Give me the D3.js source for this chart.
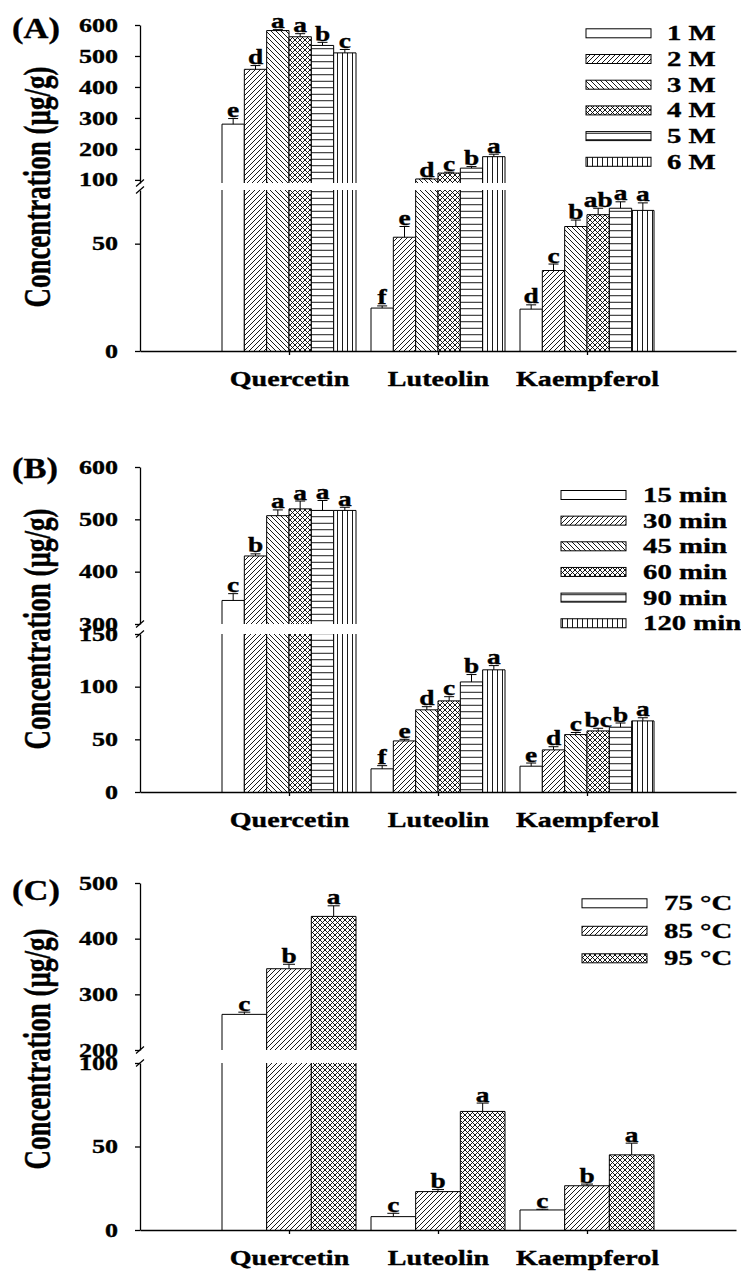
<!DOCTYPE html>
<html>
<head>
<meta charset="utf-8">
<script src="https://cdn.jsdelivr.net/npm/d3@7"></script>
<style>
  body { margin: 0; background: #fff; }
  text { font-family: "Liberation Serif", "Times New Roman", serif; font-weight: bold; fill: #000; stroke: #000; stroke-width: 0.35px; }
</style>
</head>
<body>
<svg id="chart" width="741" height="1272"></svg>
<script>
// ---- data ----
const compounds = ["Quercetin", "Luteolin", "Kaempferol"];

// (A) acid concentration
const seriesA = ["1 M", "2 M", "3 M", "4 M", "5 M", "6 M"];
const valuesA = [
    [280, 457, 582, 562, 534, 510],
    [20, 53, 103, 122, 138, 175],
    [19.5, 37.5, 58, 63.5, 66.5, 65.5]
];
const errorsA = [
    [18, 12, 3, 10, 10, 11],
    [1, 5, 2, 3, 5, 8],
    [2, 3, 3, 3, 3, 3.5]
];
const lettersA = [
    ["e", "d", "a", "a", "b", "c"],
    ["f", "e", "d", "c", "b", "a"],
    ["d", "c", "b", "ab", "a", "a"]
];
const upperTicksA = [100, 200, 300, 400, 500, 600];
const lowerTicksA = [0, 50];

// (B) extraction time
const seriesB = ["15 min", "30 min", "45 min", "60 min", "90 min", "120 min"];
const valuesB = [
    [345, 430, 507, 520, 517, 517],
    [22, 48.5, 78, 86.5, 104.5, 116],
    [24.5, 40, 54.5, 58, 61.5, 67.5]
];
const errorsB = [
    [13, 4, 11, 15, 19, 6],
    [3, 1.5, 3, 4, 7, 4],
    [3, 3, 2, 2.5, 4, 3]
];
const lettersB = [
    ["c", "b", "a", "a", "a", "a"],
    ["f", "e", "d", "c", "b", "a"],
    ["e", "d", "c", "bc", "b", "a"]
];
const upperTicksB = [300, 400, 500, 600];
const lowerTicksB = [0, 50, 100, 150];

// (C) temperature
const seriesC = ["75 °C", "85 °C", "95 °C"];
const valuesC = [
    [264, 346, 440],
    [8, 23, 71],
    [12, 26.5, 45]
];
const errorsC = [
    [4, 8, 19],
    [2, 1.2, 5],
    [0.4, 1, 7]
];
const lettersC = [
    ["c", "b", "a"],
    ["c", "b", "a"],
    ["c", "b", "a"]
];
const upperTicksC = [200, 300, 400, 500];
const lowerTicksC = [0, 50, 100];

// ---- layout ----
const SX = 1.37;   // the figure is stretched horizontally
const svg = d3.select("#chart");
const x = d3.scaleLinear().domain([0, 4]).range([140, 736]);
const groupWidth = 134;

const panels = [
    { label: "(A)", labelY: 38, titleY: 187,
      series: seriesA, values: valuesA, errors: errorsA, letters: lettersA,
      fills: ["blank", "fwd", "back", "cross", "horiz", "vert"],
      upper: { domain: [90, 600], range: [183, 25], ticks: upperTicksA },
      lower: { domain: [0, 75], range: [351, 190], ticks: lowerTicksA },
      legend: { x: 586, y: 33.3, step: 25.7, textX: 667 } },
    { label: "(B)", labelY: 478, titleY: 629,
      series: seriesB, values: valuesB, errors: errorsB, letters: lettersB,
      fills: ["blank", "fwd", "back", "cross", "horiz", "vert"],
      upper: { domain: [300, 600], range: [624, 467], ticks: upperTicksB },
      lower: { domain: [0, 150], range: [792, 634], ticks: lowerTicksB },
      legend: { x: 561, y: 495, step: 25.65, textX: 643 } },
    { label: "(C)", labelY: 900, titleY: 1049,
      series: seriesC, values: valuesC, errors: errorsC, letters: lettersC,
      fills: ["blank", "fwd", "cross"],
      upper: { domain: [200, 500], range: [1050, 883], ticks: upperTicksC },
      lower: { domain: [0, 100], range: [1230, 1063], ticks: lowerTicksC },
      legend: { x: 582, y: 903.3, step: 27.5, textX: 664 } }
];

// ---- hatch patterns ----
const defs = svg.append("defs");
function addPattern(id, w, h, d) {
    const p = defs.append("pattern")
        .attr("id", id)
        .attr("patternUnits", "userSpaceOnUse")
        .attr("width", w)
        .attr("height", h);
    p.append("rect").attr("width", w).attr("height", h).attr("fill", "#fff");
    p.append("path").attr("d", d).attr("stroke", "#000").attr("stroke-width", 0.9).attr("fill", "none");
}
addPattern("fwd", 5, 5, "M-1,1L1,-1M0,5L5,0M4,6L6,4");
addPattern("back", 5, 5, "M-1,4L1,6M0,0L5,5M4,-1L6,1");
addPattern("cross", 5, 5, "M-1,1L1,-1M0,5L5,0M4,6L6,4M-1,4L1,6M0,0L5,5M4,-1L6,1");
addPattern("horiz", 6.5, 6.5, "M0,3.25H6.5");
addPattern("vert", 5, 5, "M2.5,0V5");

const fillOf = name => name === "blank" ? "#fff" : `url(#${name})`;

function drawPiece(g, x0, w, yBottom, yTop, fill, closedTop) {
    g.append("rect")
        .attr("x", x0).attr("y", yTop)
        .attr("width", w).attr("height", yBottom - yTop)
        .attr("fill", fill);
    const d = closedTop
        ? `M${x0},${yBottom}V${yTop}H${x0 + w}V${yBottom}`
        : `M${x0},${yBottom}V${yTop}M${x0 + w},${yTop}V${yBottom}`;
    g.append("path").attr("d", d).attr("stroke", "#000").attr("stroke-width", 1).attr("fill", "none");
}

function styleAxis(ax) {
    ax.attr("font-size", null).attr("font-family", null);
    ax.selectAll(".domain, .tick line").attr("stroke", "#000").attr("stroke-width", 1.3);
}

panels.forEach(pn => {
    const g = svg.append("g");
    const yU = d3.scaleLinear().domain(pn.upper.domain).range(pn.upper.range);
    const yL = d3.scaleLinear().domain(pn.lower.domain).range(pn.lower.range);
    const lowMax = pn.lower.domain[1];
    const band = d3.scaleBand().domain(pn.series).range([-groupWidth / 2, groupWidth / 2]);
    const bw = band.bandwidth();
    const capW = pn.series.length > 3 ? 10 : 12;

    // bars
    pn.values.forEach((vals, ci) => {
        vals.forEach((v, si) => {
            const x0 = x(ci + 1) + band(pn.series[si]);
            const cx = x0 + bw / 2;
            const fill = fillOf(pn.fills[si]);
            drawPiece(g, x0, bw, yL(0), yL(Math.min(v, lowMax)), fill, v <= lowMax);
            if (v > lowMax) {
                drawPiece(g, x0, bw, yU(pn.upper.domain[0]), yU(v), fill, true);
            }
            const seg = v <= lowMax ? yL : yU;
            const err = pn.errors[ci][si];
            const yTop = seg(v), yErr = seg(v + err);
            if (err > 0) {
                g.append("line").attr("x1", cx).attr("x2", cx).attr("y1", yTop).attr("y2", yErr)
                    .attr("stroke", "#000").attr("stroke-width", 1);
                g.append("line").attr("x1", cx - capW / 2).attr("x2", cx + capW / 2).attr("y1", yErr).attr("y2", yErr)
                    .attr("stroke", "#000").attr("stroke-width", 1);
            }
            g.append("text")
                .attr("transform", `translate(${cx},${yErr - 1.5}) scale(${SX},1)`)
                .attr("text-anchor", "middle")
                .attr("font-size", 20)
                .text(pn.letters[ci][si]);
        });
    });

    // y axes (two segments)
    [[yU, pn.upper.ticks], [yL, pn.lower.ticks]].forEach(([sc, ticks]) => {
        const ax = g.append("g")
            .attr("transform", "translate(140,0)")
            .call(d3.axisLeft(sc).tickValues(ticks).tickSize(5).tickSizeOuter(0).tickFormat(d3.format("d")));
        styleAxis(ax);
        ax.selectAll(".tick text")
            .attr("x", null)
            .attr("transform", `translate(-22,0) scale(${SX},1)`)
            .attr("font-size", 19);
    });

    // break marks
    [pn.upper.range[0], pn.lower.range[1]].forEach(yb => {
        g.append("line")
            .attr("x1", 136).attr("y1", yb + 3.5)
            .attr("x2", 144).attr("y2", yb - 3.5)
            .attr("stroke", "#000").attr("stroke-width", 1.2);
    });

    // x axis
    const xa = g.append("g")
        .attr("transform", `translate(0,${yL(0)})`)
        .call(d3.axisBottom(x).tickValues([1, 2, 3]).tickSize(4).tickSizeOuter(0).tickFormat(d => compounds[d - 1]));
    styleAxis(xa);
    xa.selectAll(".tick text")
        .attr("y", null).attr("dy", null)
        .attr("transform", `translate(0,35) scale(${SX},1)`)
        .attr("font-size", 20.5);

    // y title
    g.append("text")
        .attr("transform", `translate(50,${pn.titleY}) scale(${SX},1) rotate(-90)`)
        .attr("text-anchor", "middle")
        .attr("font-size", 27)
        .text("Concentration (µg/g)");

    // panel label
    g.append("text")
        .attr("transform", `translate(12,${pn.labelY}) scale(1.15,1)`)
        .attr("font-size", 30)
        .text(pn.label);

    // legend
    const lg = g.append("g");
    pn.series.forEach((s, i) => {
        const cy = pn.legend.y + i * pn.legend.step;
        lg.append("rect")
            .attr("x", pn.legend.x).attr("y", cy - 4.5)
            .attr("width", 65).attr("height", 9)
            .attr("fill", fillOf(pn.fills[i]))
            .attr("stroke", "#000").attr("stroke-width", 1);
        lg.append("text")
            .attr("transform", `translate(${pn.legend.textX},${cy + 7}) scale(${SX},1)`)
            .attr("font-size", 21)
            .text(s);
    });
});
</script>
</body>
</html>
